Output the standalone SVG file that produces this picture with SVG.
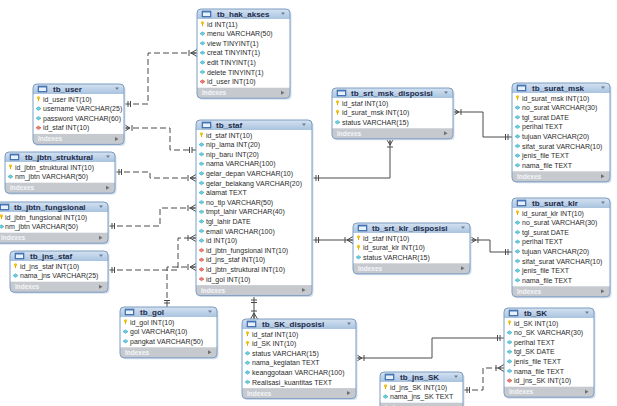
<svg xmlns="http://www.w3.org/2000/svg" xmlns:xlink="http://www.w3.org/1999/xlink" width="617" height="406" viewBox="0 0 617 406">
<defs>
<style>
text{font-family:"Liberation Sans",Arial,sans-serif;}
.t{font-size:7px;fill:#2b2b2b;}
.h{font-size:8px;font-weight:bold;fill:#1d2c4c;}
.ix{font-size:6.5px;font-weight:bold;fill:#f4f6f8;}
.ol{fill:none;stroke:#7d9cc2;stroke-width:1;}
.sh{fill:#d6e1ee;}
.ft{fill:#c6cacf;}
.bd{fill:#ffffff;}
.hd{fill:url(#hg);}
.cn{fill:none;stroke:#4a4a4a;stroke-width:1;}
.ds{stroke-dasharray:6 3;}
</style>
<linearGradient id="hg" x1="0" y1="0" x2="0" y2="1">
<stop offset="0" stop-color="#d4e2f1"/>
<stop offset="1" stop-color="#98b7d8"/>
</linearGradient>
<g id="k"><circle cx="2.5" cy="-1.2" r="1.6" fill="#f2c31c"/><rect x="2" y="-0.5" width="1" height="2.6" fill="#e0a800"/></g>
<g id="c"><path d="M0,0 L2.5,-1.8 L5,0 L2.5,1.8 Z" fill="#66cfe0" stroke="#2f9fb6" stroke-width="0.5"/></g>
<g id="f"><path d="M0,0 L2.5,-1.8 L5,0 L2.5,1.8 Z" fill="#ee7a72" stroke="#c2443c" stroke-width="0.5"/></g>
<g id="ti"><rect x="0" y="-3" width="9" height="6" fill="#4f7fc0" stroke="#2c5a99" stroke-width="0.5"/><rect x="1" y="-1.5" width="7" height="3.5" fill="#e8f0fa"/></g>
<g id="dd"><path d="M0,0 L4,0 L2,2.5 Z" fill="#6d7f95"/></g>
<g id="ar"><path d="M0,-2 L3.5,0 L0,2 Z" fill="#6e6e6e"/></g>
<marker id="one" markerUnits="userSpaceOnUse" markerWidth="12" markerHeight="12" viewBox="-10 -6 12 12" refX="0" refY="0" orient="auto-start-reverse">
<path d="M-4,-3 V3 M-6.5,-3 V3" stroke="#4a4a4a" stroke-width="1" fill="none"/>
</marker>
<marker id="many" markerUnits="userSpaceOnUse" markerWidth="12" markerHeight="12" viewBox="-10 -6 12 12" refX="0" refY="0" orient="auto-start-reverse">
<path d="M-6,0 L0,-3.5 M-6,0 L0,3.5 M-6,0 L0,0 M-8,-3 V3" stroke="#4a4a4a" stroke-width="1" fill="none"/>
</marker>
</defs>
<rect width="617" height="406" fill="#ffffff"/>

<g id="connectors">
<path class="cn ds" d="M124,104 H148 V53 H197" marker-start="url(#one)" marker-end="url(#many)"/>
<path class="cn ds" d="M124,128 H170 V150 H196" marker-start="url(#many)" marker-end="url(#one)"/>
<path class="cn ds" d="M115,172 H150 V178 H196" marker-start="url(#one)" marker-end="url(#many)"/>
<path class="cn ds" d="M108,226 H160 V208 H196" marker-start="url(#one)" marker-end="url(#many)"/>
<path class="cn ds" d="M108,270 H178 V238 H196" marker-start="url(#one)" marker-end="url(#many)"/>
<path class="cn ds" d="M167,307 V267 H196" marker-start="url(#one)" marker-end="url(#many)"/>
<path class="cn" d="M312,178 H390 V139" marker-start="url(#one)" marker-end="url(#many)"/>
<path class="cn" d="M512,137 H483 V112 H453" marker-start="url(#one)" marker-end="url(#many)"/>
<path class="cn" d="M312,240 H353" marker-start="url(#one)" marker-end="url(#many)"/>
<path class="cn" d="M512,252 H490 V240 H470" marker-start="url(#one)" marker-end="url(#many)"/>
<path class="cn" d="M254,296 V319" marker-start="url(#one)" marker-end="url(#many)"/>
<path class="cn" d="M504,338 H432 V358 H356" marker-start="url(#one)" marker-end="url(#many)"/>
<path class="cn ds" d="M463,390 H483 V368 H504" marker-start="url(#one)" marker-end="url(#many)"/>
</g>

<g id="tb_hak_akses" transform="translate(197,9)">
<rect class="sh" x="1.5" y="1.5" width="93" height="89.2" rx="4"/>
<rect class="ft" width="93" height="89.2" rx="4"/>
<rect class="hd" width="93" height="14" rx="4"/>
<rect class="bd" y="10" width="93" height="68.7"/>
<rect class="ol" width="93" height="89.2" rx="4"/>
<use href="#ti" x="5" y="5"/><text class="h" x="20" y="8">tb_hak_akses</text><use href="#dd" x="84" y="3.5"/>
<use href="#k" x="3" y="15"/><text class="t" x="10" y="17.5">id INT(11)</text>
<use href="#c" x="3" y="24.6"/><text class="t" x="10" y="27.1">menu VARCHAR(50)</text>
<use href="#c" x="3" y="34.2"/><text class="t" x="10" y="36.7">view TINYINT(1)</text>
<use href="#c" x="3" y="43.8"/><text class="t" x="10" y="46.3">creat TINYINT(1)</text>
<use href="#c" x="3" y="53.4"/><text class="t" x="10" y="55.9">edit TINYINT(1)</text>
<use href="#c" x="3" y="63"/><text class="t" x="10" y="65.5">delete TINYINT(1)</text>
<use href="#f" x="3" y="72.6"/><text class="t" x="10" y="75.1">id_user INT(10)</text>
<text class="ix" x="5" y="86.2">Indexes</text><use href="#ar" x="84" y="83.7"/>
</g>

<g id="tb_user" transform="translate(33,84)">
<rect class="sh" x="1.5" y="1.5" width="91" height="60.4" rx="4"/>
<rect class="ft" width="91" height="60.4" rx="4"/>
<rect class="hd" width="91" height="14" rx="4"/>
<rect class="bd" y="10" width="91" height="39.9"/>
<rect class="ol" width="91" height="60.4" rx="4"/>
<use href="#ti" x="5" y="5"/><text class="h" x="20" y="8">tb_user</text><use href="#dd" x="82" y="3.5"/>
<use href="#k" x="3" y="15"/><text class="t" x="10" y="17.5">id_user INT(10)</text>
<use href="#c" x="3" y="24.6"/><text class="t" x="10" y="27.1">username VARCHAR(25)</text>
<use href="#c" x="3" y="34.2"/><text class="t" x="10" y="36.7">password VARCHAR(60)</text>
<use href="#f" x="3" y="43.8"/><text class="t" x="10" y="46.3">id_staf INT(10)</text>
<text class="ix" x="5" y="57.4">Indexes</text><use href="#ar" x="82" y="54.9"/>
</g>

<g id="tb_jbtn_struktural" transform="translate(5,152)">
<rect class="sh" x="1.5" y="1.5" width="110" height="41.2" rx="4"/>
<rect class="ft" width="110" height="41.2" rx="4"/>
<rect class="hd" width="110" height="14" rx="4"/>
<rect class="bd" y="10" width="110" height="20.7"/>
<rect class="ol" width="110" height="41.2" rx="4"/>
<use href="#ti" x="5" y="5"/><text class="h" x="20" y="8">tb_jbtn_struktural</text><use href="#dd" x="101" y="3.5"/>
<use href="#k" x="3" y="15"/><text class="t" x="10" y="17.5">id_jbtn_struktural INT(10)</text>
<use href="#c" x="3" y="24.6"/><text class="t" x="10" y="27.1">nm_jbtn VARCHAR(50)</text>
<text class="ix" x="5" y="38.2">Indexes</text><use href="#ar" x="101" y="35.7"/>
</g>

<g id="tb_jbtn_fungsional" transform="translate(-4,202)">
<rect class="sh" x="1.5" y="1.5" width="112" height="41.2" rx="4"/>
<rect class="ft" width="112" height="41.2" rx="4"/>
<rect class="hd" width="112" height="14" rx="4"/>
<rect class="bd" y="10" width="112" height="20.7"/>
<rect class="ol" width="112" height="41.2" rx="4"/>
<use href="#ti" x="4" y="5"/><text class="h" x="18" y="8">tb_jbtn_fungsional</text><use href="#dd" x="103" y="3.5"/>
<use href="#k" x="3" y="15"/><text class="t" x="9" y="17.5">id_jbtn_fungsional INT(10)</text>
<use href="#c" x="3" y="24.6"/><text class="t" x="9" y="27.1">nm_jbtn VARCHAR(50)</text>
<text class="ix" x="5" y="38.2">Indexes</text><use href="#ar" x="103" y="35.7"/>
</g>

<g id="tb_jns_staf" transform="translate(10,251)">
<rect class="sh" x="1.5" y="1.5" width="98" height="41.2" rx="4"/>
<rect class="ft" width="98" height="41.2" rx="4"/>
<rect class="hd" width="98" height="14" rx="4"/>
<rect class="bd" y="10" width="98" height="20.7"/>
<rect class="ol" width="98" height="41.2" rx="4"/>
<use href="#ti" x="5" y="5"/><text class="h" x="20" y="8">tb_jns_staf</text><use href="#dd" x="89" y="3.5"/>
<use href="#k" x="3" y="15"/><text class="t" x="10" y="17.5">id_jns_staf INT(10)</text>
<use href="#c" x="3" y="24.6"/><text class="t" x="10" y="27.1">nama_jns VARCHAR(25)</text>
<text class="ix" x="5" y="38.2">Indexes</text><use href="#ar" x="89" y="35.7"/>
</g>

<g id="tb_staf" transform="translate(196,120)">
<rect class="sh" x="1.5" y="1.5" width="116" height="175.6" rx="4"/>
<rect class="ft" width="116" height="175.6" rx="4"/>
<rect class="hd" width="116" height="14" rx="4"/>
<rect class="bd" y="10" width="116" height="155.1"/>
<rect class="ol" width="116" height="175.6" rx="4"/>
<use href="#ti" x="6" y="5"/><text class="h" x="20" y="8">tb_staf</text><use href="#dd" x="106" y="3.5"/>
<use href="#k" x="3" y="15"/><text class="t" x="10" y="17.5">id_staf INT(10)</text>
<use href="#c" x="3" y="24.6"/><text class="t" x="10" y="27.1">nip_lama INT(20)</text>
<use href="#c" x="3" y="34.2"/><text class="t" x="10" y="36.7">nip_baru INT(20)</text>
<use href="#c" x="3" y="43.8"/><text class="t" x="10" y="46.3">nama VARCHAR(100)</text>
<use href="#c" x="3" y="53.4"/><text class="t" x="10" y="55.9">gelar_depan VARCHAR(10)</text>
<use href="#c" x="3" y="63"/><text class="t" x="10" y="65.5">gelar_belakang VARCHAR(20)</text>
<use href="#c" x="3" y="72.6"/><text class="t" x="10" y="75.1">alamat TEXT</text>
<use href="#c" x="3" y="82.2"/><text class="t" x="10" y="84.7">no_tlp VARCHAR(50)</text>
<use href="#c" x="3" y="91.8"/><text class="t" x="10" y="94.3">tmpt_lahir VARCHAR(40)</text>
<use href="#c" x="3" y="101.4"/><text class="t" x="10" y="103.9">tgl_lahir DATE</text>
<use href="#c" x="3" y="111"/><text class="t" x="10" y="113.5">email VARCHAR(100)</text>
<use href="#c" x="3" y="120.6"/><text class="t" x="10" y="123.1">id INT(10)</text>
<use href="#f" x="3" y="130.2"/><text class="t" x="10" y="132.7">id_jbtn_fungsional INT(10)</text>
<use href="#f" x="3" y="139.8"/><text class="t" x="10" y="142.3">id_jns_staf INT(10)</text>
<use href="#f" x="3" y="149.4"/><text class="t" x="10" y="151.9">id_jbtn_struktural INT(10)</text>
<use href="#f" x="3" y="159"/><text class="t" x="10" y="161.5">id_gol INT(10)</text>
<text class="ix" x="5" y="172.6">Indexes</text><use href="#ar" x="106" y="170.1"/>
</g>

<g id="tb_srt_msk_disposisi" transform="translate(332,88)">
<rect class="sh" x="1.5" y="1.5" width="121" height="50.8" rx="4"/>
<rect class="ft" width="121" height="50.8" rx="4"/>
<rect class="hd" width="121" height="14" rx="4"/>
<rect class="bd" y="10" width="121" height="30.3"/>
<rect class="ol" width="121" height="50.8" rx="4"/>
<use href="#ti" x="5" y="5"/><text class="h" x="19" y="8">tb_srt_msk_disposisi</text><use href="#dd" x="112" y="3.5"/>
<use href="#k" x="3" y="15"/><text class="t" x="10" y="17.5">id_staf INT(10)</text>
<use href="#k" x="3" y="24.6"/><text class="t" x="10" y="27.1">id_surat_msk INT(10)</text>
<use href="#c" x="3" y="34.2"/><text class="t" x="10" y="36.7">status VARCHAR(15)</text>
<text class="ix" x="5" y="47.8">Indexes</text><use href="#ar" x="112" y="45.3"/>
</g>

<g id="tb_surat_msk" transform="translate(512,83)">
<rect class="sh" x="1.5" y="1.5" width="98" height="98.8" rx="4"/>
<rect class="ft" width="98" height="98.8" rx="4"/>
<rect class="hd" width="98" height="14" rx="4"/>
<rect class="bd" y="10" width="98" height="78.3"/>
<rect class="ol" width="98" height="98.8" rx="4"/>
<use href="#ti" x="5" y="5"/><text class="h" x="20" y="8">tb_surat_msk</text><use href="#dd" x="89" y="3.5"/>
<use href="#k" x="3" y="15"/><text class="t" x="10" y="17.5">id_surat_msk INT(10)</text>
<use href="#c" x="3" y="24.6"/><text class="t" x="10" y="27.1">no_surat VARCHAR(30)</text>
<use href="#c" x="3" y="34.2"/><text class="t" x="10" y="36.7">tgl_surat DATE</text>
<use href="#c" x="3" y="43.8"/><text class="t" x="10" y="46.3">perihal TEXT</text>
<use href="#c" x="3" y="53.4"/><text class="t" x="10" y="55.9">tujuan VARCHAR(20)</text>
<use href="#c" x="3" y="63"/><text class="t" x="10" y="65.5">sifat_surat VARCHAR(10)</text>
<use href="#c" x="3" y="72.6"/><text class="t" x="10" y="75.1">jenis_file TEXT</text>
<use href="#c" x="3" y="82.2"/><text class="t" x="10" y="84.7">nama_file TEXT</text>
<text class="ix" x="5" y="95.8">Indexes</text><use href="#ar" x="89" y="93.3"/>
</g>

<g id="tb_surat_klr" transform="translate(512,198)">
<rect class="sh" x="1.5" y="1.5" width="98" height="98.8" rx="4"/>
<rect class="ft" width="98" height="98.8" rx="4"/>
<rect class="hd" width="98" height="14" rx="4"/>
<rect class="bd" y="10" width="98" height="78.3"/>
<rect class="ol" width="98" height="98.8" rx="4"/>
<use href="#ti" x="5" y="5"/><text class="h" x="20" y="8">tb_surat_klr</text><use href="#dd" x="89" y="3.5"/>
<use href="#k" x="3" y="15"/><text class="t" x="10" y="17.5">id_surat_klr INT(10)</text>
<use href="#c" x="3" y="24.6"/><text class="t" x="10" y="27.1">no_surat VARCHAR(30)</text>
<use href="#c" x="3" y="34.2"/><text class="t" x="10" y="36.7">tgl_surat DATE</text>
<use href="#c" x="3" y="43.8"/><text class="t" x="10" y="46.3">perihal TEXT</text>
<use href="#c" x="3" y="53.4"/><text class="t" x="10" y="55.9">tujuan VARCHAR(20)</text>
<use href="#c" x="3" y="63"/><text class="t" x="10" y="65.5">sifat_surat VARCHAR(10)</text>
<use href="#c" x="3" y="72.6"/><text class="t" x="10" y="75.1">jenis_file TEXT</text>
<use href="#c" x="3" y="82.2"/><text class="t" x="10" y="84.7">nama_file TEXT</text>
<text class="ix" x="5" y="95.8">Indexes</text><use href="#ar" x="89" y="93.3"/>
</g>

<g id="tb_srt_klr_disposisi" transform="translate(353,223)">
<rect class="sh" x="1.5" y="1.5" width="117" height="50.8" rx="4"/>
<rect class="ft" width="117" height="50.8" rx="4"/>
<rect class="hd" width="117" height="14" rx="4"/>
<rect class="bd" y="10" width="117" height="30.3"/>
<rect class="ol" width="117" height="50.8" rx="4"/>
<use href="#ti" x="5" y="5"/><text class="h" x="19" y="8">tb_srt_klr_disposisi</text><use href="#dd" x="108" y="3.5"/>
<use href="#k" x="3" y="15"/><text class="t" x="10" y="17.5">id_staf INT(10)</text>
<use href="#k" x="3" y="24.6"/><text class="t" x="10" y="27.1">id_surat_klr INT(10)</text>
<use href="#c" x="3" y="34.2"/><text class="t" x="10" y="36.7">status VARCHAR(15)</text>
<text class="ix" x="5" y="47.8">Indexes</text><use href="#ar" x="108" y="45.3"/>
</g>

<g id="tb_gol" transform="translate(120,307)">
<rect class="sh" x="1.5" y="1.5" width="97" height="50.8" rx="4"/>
<rect class="ft" width="97" height="50.8" rx="4"/>
<rect class="hd" width="97" height="14" rx="4"/>
<rect class="bd" y="10" width="97" height="30.3"/>
<rect class="ol" width="97" height="50.8" rx="4"/>
<use href="#ti" x="5" y="5"/><text class="h" x="20" y="8">tb_gol</text><use href="#dd" x="88" y="3.5"/>
<use href="#k" x="3" y="15"/><text class="t" x="10" y="17.5">id_gol INT(10)</text>
<use href="#c" x="3" y="24.6"/><text class="t" x="10" y="27.1">gol VARCHAR(10)</text>
<use href="#c" x="3" y="34.2"/><text class="t" x="10" y="36.7">pangkat VARCHAR(50)</text>
<text class="ix" x="5" y="47.8">Indexes</text><use href="#ar" x="88" y="45.3"/>
</g>

<g id="tb_SK_disposisi" transform="translate(242,319)">
<rect class="sh" x="1.5" y="1.5" width="114" height="79.6" rx="4"/>
<rect class="ft" width="114" height="79.6" rx="4"/>
<rect class="hd" width="114" height="14" rx="4"/>
<rect class="bd" y="10" width="114" height="59.1"/>
<rect class="ol" width="114" height="79.6" rx="4"/>
<use href="#ti" x="5" y="5"/><text class="h" x="20" y="8">tb_SK_disposisi</text><use href="#dd" x="105" y="3.5"/>
<use href="#k" x="3" y="15"/><text class="t" x="10" y="17.5">id_staf INT(10)</text>
<use href="#k" x="3" y="24.6"/><text class="t" x="10" y="27.1">id_SK INT(10)</text>
<use href="#c" x="3" y="34.2"/><text class="t" x="10" y="36.7">status VARCHAR(15)</text>
<use href="#c" x="3" y="43.8"/><text class="t" x="10" y="46.3">nama_kegiatan TEXT</text>
<use href="#c" x="3" y="53.4"/><text class="t" x="10" y="55.9">keanggotaan VARCHAR(100)</text>
<use href="#c" x="3" y="63"/><text class="t" x="10" y="65.5">Realisasi_kuantitas TEXT</text>
<text class="ix" x="5" y="76.6">Indexes</text><use href="#ar" x="105" y="74.1"/>
</g>

<g id="tb_jns_SK" transform="translate(380,372)">
<rect class="sh" x="1.5" y="1.5" width="83" height="41.2" rx="4"/>
<rect class="ft" width="83" height="41.2" rx="4"/>
<rect class="hd" width="83" height="14" rx="4"/>
<rect class="bd" y="10" width="83" height="20.7"/>
<rect class="ol" width="83" height="41.2" rx="4"/>
<use href="#ti" x="5" y="5"/><text class="h" x="20" y="8">tb_jns_SK</text><use href="#dd" x="74" y="3.5"/>
<use href="#k" x="3" y="15"/><text class="t" x="10" y="17.5">id_jns_SK INT(10)</text>
<use href="#c" x="3" y="24.6"/><text class="t" x="10" y="27.1">nama_jns_SK TEXT</text>
<text class="ix" x="5" y="38.2">Indexes</text><use href="#ar" x="74" y="35.7"/>
</g>

<g id="tb_SK" transform="translate(504,308)">
<rect class="sh" x="1.5" y="1.5" width="90" height="89.2" rx="4"/>
<rect class="ft" width="90" height="89.2" rx="4"/>
<rect class="hd" width="90" height="14" rx="4"/>
<rect class="bd" y="10" width="90" height="68.7"/>
<rect class="ol" width="90" height="89.2" rx="4"/>
<use href="#ti" x="5" y="5"/><text class="h" x="20" y="8">tb_SK</text><use href="#dd" x="81" y="3.5"/>
<use href="#k" x="3" y="15"/><text class="t" x="10" y="17.5">id_SK INT(10)</text>
<use href="#c" x="3" y="24.6"/><text class="t" x="10" y="27.1">no_SK VARCHAR(30)</text>
<use href="#c" x="3" y="34.2"/><text class="t" x="10" y="36.7">perihal TEXT</text>
<use href="#c" x="3" y="43.8"/><text class="t" x="10" y="46.3">tgl_SK DATE</text>
<use href="#c" x="3" y="53.4"/><text class="t" x="10" y="55.9">jenis_file TEXT</text>
<use href="#c" x="3" y="63"/><text class="t" x="10" y="65.5">nama_file TEXT</text>
<use href="#f" x="3" y="72.6"/><text class="t" x="10" y="75.1">id_jns_SK INT(10)</text>
<text class="ix" x="5" y="86.2">Indexes</text><use href="#ar" x="81" y="83.7"/>
</g>
</svg>
